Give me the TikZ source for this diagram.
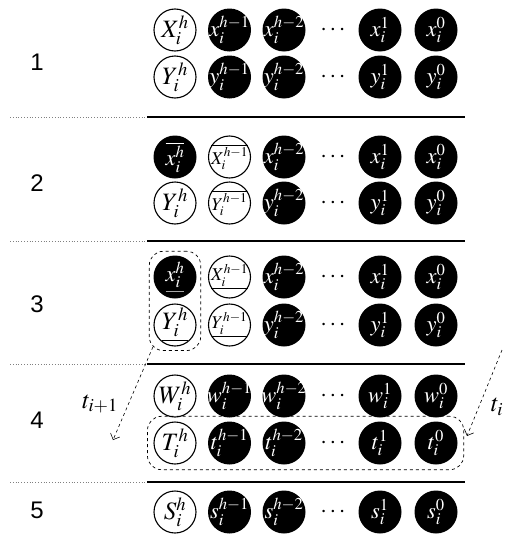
\documentclass[tikz,border=0pt]{standalone}
\usepackage{mathptmx}
\usepackage[no-math]{fontspec}
\newfontfamily\labfont{Liberation Sans}
\usetikzlibrary{arrows.meta,fit,calc}
\newcommand\cirtext[1]{\makebox[0pt]{$#1$}}
\tikzset{
  wc/.style={circle, draw, line width=1.1pt, minimum size=42pt, inner sep=0pt, fill=white, font=\fontsize{25}{25}\selectfont},
  bc/.style={circle, fill=black, minimum size=43pt, inner sep=0pt, text=white, font=\fontsize{22.5}{22.5}\selectfont},
  sm/.style={font=\fontsize{18}{18}\selectfont},
  dts/.style={font=\fontsize{24}{24}\selectfont, inner sep=0pt},
  secline/.style={line width=1.3pt},
  dotline/.style={gray, line width=0.8pt, dotted},
  grp/.style={draw, dashed, rounded corners=14pt, line width=0.7pt, inner sep=4pt},
  flow/.style={dashed, line width=0.6pt, -{Straight Barb[length=5pt,width=10pt]}},
  sec/.style={font=\labfont\fontsize{24}{24}\selectfont, inner sep=0pt},
  tlab/.style={font=\fontsize{25}{25}\selectfont, inner sep=0pt},
}
\newcommand\blackrest[3]{% name, y, letter
  \node[bc] (#1-3) at (284,#2) {\cirtext{#3_i^{h-2}}};
  \node[dts] (#1-d) at (333,#2) {$\cdots$};
  \node[bc] (#1-5) at (380,#2) {\cirtext{#3_i^{1}}};
  \node[bc] (#1-6) at (436,#2) {\cirtext{#3_i^{0}}};
}
\begin{document}
\begin{tikzpicture}[x=1pt,y=-1pt]
\fill[white] (0,0) rectangle (504,538);
\useasboundingbox (0,0) rectangle (504,538);

% section labels
\node[sec] (s1) at (37,62) {1};
\node[sec] (s2) at (37,183) {2};
\node[sec] (s3) at (37,304) {3};
\node[sec] (s4) at (37,420) {4};
\node[sec] (s5) at (37,510) {5};

% section separators
\foreach \yy in {117,241,364,482}{
  \draw[dotline] (10,\yy) -- (147,\yy);
  \draw[secline] (147,\yy) -- (465,\yy);
}

% row 1
\node[wc] (r1a-1) at (175,30) {\cirtext{X_i^h}};
\node[bc] (r1a-2) at (229.5,30) {\cirtext{x_i^{h-1}}};
\blackrest{r1a}{30}{x}
\node[wc] (r1b-1) at (175,77) {\cirtext{Y_i^h}};
\node[bc] (r1b-2) at (229.5,77) {\cirtext{y_i^{h-1}}};
\blackrest{r1b}{77}{y}

% row 2
\node[bc] (r2a-1) at (175,157) {\cirtext{\overline{x_i^h}}};
\node[wc,sm] (r2a-2) at (229.5,157) {\cirtext{\overline{X_i^{h-1}}}};
\blackrest{r2a}{157}{x}
\node[wc] (r2b-1) at (175,203) {\cirtext{Y_i^h}};
\node[wc,sm] (r2b-2) at (229.5,203) {\cirtext{\overline{Y_i^{h-1}}}};
\blackrest{r2b}{203}{y}

% row 3
\node[bc,text=gray!70] (r3a-1) at (175,277) {\cirtext{\underline{{\color{white}x_i^h}}}};
\node[wc,sm] (r3a-2) at (229.5,277) {\cirtext{\underline{X_i^{h-1}}}};
\blackrest{r3a}{277}{x}
\node[wc] (r3b-1) at (175,325) {\cirtext{\underline{Y_i^h}}};
\node[wc,sm] (r3b-2) at (229.5,325) {\cirtext{\underline{Y_i^{h-1}}}};
\blackrest{r3b}{325}{y}

% row 4
\node[wc] (r4a-1) at (175,396) {\cirtext{W_i^h}};
\node[bc] (r4a-2) at (229.5,396) {\cirtext{w_i^{h-1}}};
\blackrest{r4a}{396}{w}
\node[wc] (r4b-1) at (175,443) {\cirtext{T_i^h}};
\node[bc] (r4b-2) at (229.5,443) {\cirtext{t_i^{h-1}}};
\blackrest{r4b}{443}{t}

% row 5
\node[wc] (r5-1) at (175,512) {\cirtext{S_i^h}};
\node[bc] (r5-2) at (229.5,512) {\cirtext{s_i^{h-1}}};
\blackrest{r5}{512}{s}

% groups
\node[grp, fit=(r3a-1)(r3b-1)] (g1) {};
\node[grp, fit=(r4b-1)(r4b-6), inner xsep=6pt, inner ysep=5pt] (g2) {};

% flows
\coordinate (f1s) at ($(g1.south west)+(4,-4)$);
\coordinate (f1e) at (113,440);
\coordinate (f2s) at (502,350);
\coordinate (f2e) at (467,436);
\draw[flow] (f1s) -- (f1e);
\draw[flow] (f2s) -- (f2e);
\node[tlab] (l1) at (100,404) {$t_{i+1}$};
\node[tlab] (l2) at (497,407) {$t_i$};
\end{tikzpicture}
\end{document}
